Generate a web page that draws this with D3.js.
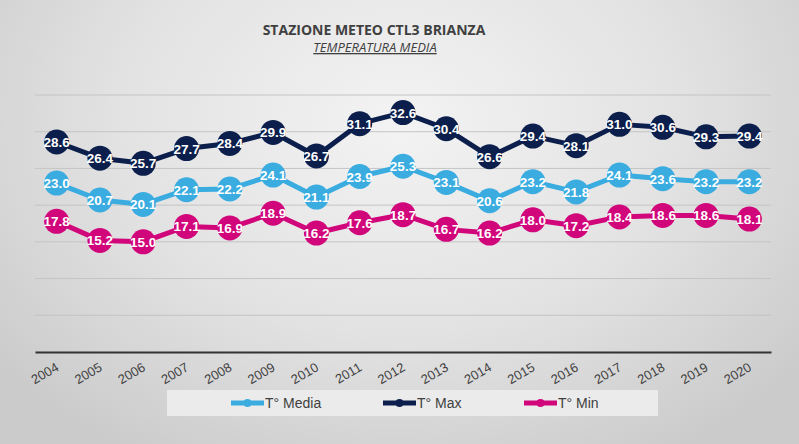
<!DOCTYPE html>
<html><head><meta charset="utf-8">
<script src="https://cdn.jsdelivr.net/npm/d3@7"></script>
<style>html,body{margin:0;padding:0;overflow:hidden;background:#d0d0d0}</style>
</head><body>
<svg id="c" width="799" height="444"></svg>
<script>
const years = ["2004","2005","2006","2007","2008","2009","2010","2011","2012","2013","2014","2015","2016","2017","2018","2019","2020"];
const tMax = [28.6,26.4,25.7,27.7,28.4,29.9,26.7,31.1,32.6,30.4,26.6,29.4,28.1,31.0,30.6,29.3,29.4];
const tMedia = [23.0,20.7,20.1,22.1,22.2,24.1,21.1,23.9,25.3,23.1,20.6,23.2,21.8,24.1,23.6,23.2,23.2];
const tMin = [17.8,15.2,15.0,17.1,16.9,18.9,16.2,17.6,18.7,16.7,16.2,18.0,17.2,18.4,18.6,18.6,18.1];
const gridTicks = [0,5,10,15,20,25,30,35];
const seriesNames = ["T° Media","T° Max","T° Min"];
const seriesColors = ["#3aace0","#0c1f4c","#d1067b"];

const series = [
  {name:seriesNames[0], values:tMedia, color:seriesColors[0]},
  {name:seriesNames[1], values:tMax, color:seriesColors[1]},
  {name:seriesNames[2], values:tMin, color:seriesColors[2]}
];

const svg = d3.select("#c");
const defs = svg.append("defs");
const rg = defs.append("radialGradient").attr("id","bg")
  .attr("gradientUnits","userSpaceOnUse").attr("cx",400).attr("cy",120).attr("r",520)
  .attr("gradientTransform","translate(400,120) scale(1,0.75) translate(-400,-120)");
rg.append("stop").attr("offset","0").attr("stop-color","#f3f3f3");
rg.append("stop").attr("offset","0.55").attr("stop-color","#e2e2e2");
rg.append("stop").attr("offset","1").attr("stop-color","#cbcbcb");
svg.append("rect").attr("width",799).attr("height",444).attr("fill","url(#bg)");

const x = d3.scaleBand().domain(years).range([35,771]);
const y = d3.scaleLinear().domain([0,35]).range([352,95]);

// gridlines
svg.append("g").selectAll("line").data(gridTicks.filter(d=>d>0)).join("line")
  .attr("x1",35).attr("x2",771).attr("y1",d=>y(d)).attr("y2",d=>y(d))
  .attr("stroke","#c4c4c4").attr("stroke-width",1);

// x axis
const xa = svg.append("g").attr("transform","translate(0,352)")
  .call(d3.axisBottom(x).tickSize(0).tickPadding(0));
xa.select(".domain").attr("stroke","#333").attr("stroke-width",2);
xa.selectAll("text")
  .attr("font-family","Liberation Sans, Arial, sans-serif").attr("font-size",13)
  .attr("fill","#404040").attr("text-anchor","end")
  .attr("x",0).attr("y",0).attr("dy","0")
  .attr("transform","translate(3,18) rotate(-30)");

// title
svg.append("text").attr("x",374).attr("y",35).attr("text-anchor","middle")
  .attr("font-family","Open Sans, sans-serif").attr("font-weight","bold").attr("font-size",14)
  .attr("fill","#404040").text("STAZIONE METEO CTL3 BRIANZA");
svg.append("text").attr("x",375).attr("y",52).attr("text-anchor","middle")
  .attr("font-family","Open Sans, sans-serif").attr("font-style","italic").attr("font-size",13)
  .attr("text-decoration","underline")
  .attr("fill","#404040").text("TEMPERATURA MEDIA");

// lines
const line = d3.line().x((d,i)=>x(years[i])+x.bandwidth()/2).y(d=>y(d));
series.forEach(s=>{
  const g = svg.append("g");
  g.append("path").datum(s.values).attr("d",line).attr("fill","none")
    .attr("stroke",s.color).attr("stroke-width",5).attr("stroke-linejoin","round");
  g.selectAll("circle").data(s.values).join("circle")
    .attr("cx",(d,i)=>x(years[i])+x.bandwidth()/2).attr("cy",d=>y(d)).attr("r",12.5)
    .attr("fill",s.color);
  g.selectAll("text").data(s.values).join("text")
    .attr("x",(d,i)=>x(years[i])+x.bandwidth()/2).attr("y",d=>y(d)+5)
    .attr("text-anchor","middle")
    .attr("font-family","Liberation Sans, Arial, sans-serif").attr("font-weight","bold").attr("font-size",13.5)
    .attr("fill","#fff").text(d=>d.toFixed(1));
});

// legend
svg.append("rect").attr("x",167).attr("y",390).attr("width",491).attr("height",26).attr("fill","#ebebeb");
const legX = [231,383,524];
series.forEach((s,i)=>{
  const lg = svg.append("g").attr("transform","translate("+legX[i]+",403)");
  lg.append("line").attr("x1",0).attr("x2",33).attr("y1",0).attr("y2",0)
    .attr("stroke",s.color).attr("stroke-width",5);
  lg.append("circle").attr("cx",16.5).attr("cy",0).attr("r",4).attr("fill",s.color);
  lg.append("text").attr("x",34).attr("y",5).attr("font-family","Liberation Sans, Arial, sans-serif")
    .attr("font-size",14).attr("fill","#404040").text(s.name);
});
</script>
</body></html>
